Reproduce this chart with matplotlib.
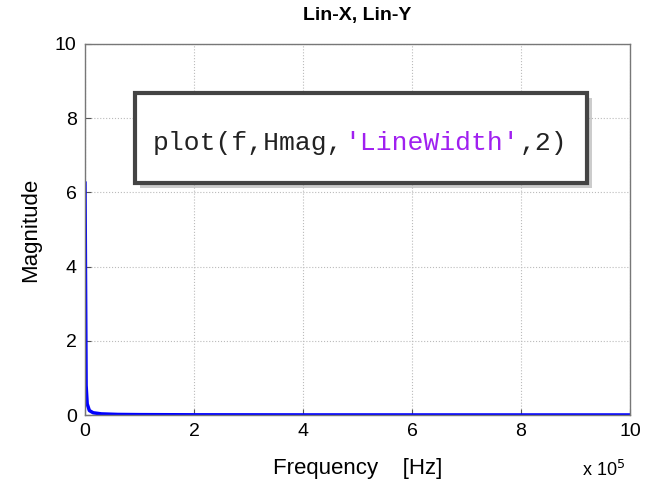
import matplotlib
matplotlib.use("Agg")
import matplotlib.pyplot as plt
from matplotlib.patches import Rectangle

# Data
f = [0, 2000, 4000, 8000, 15000, 30000, 60000, 100000, 200000, 400000, 600000, 800000, 1000000]
Hmag = [6.25, 0.8, 0.3, 0.12, 0.06, 0.03, 0.015, 0.01, 0.005, 0.0025, 0.0017, 0.0012, 0.001]

xticks = [0, 2e5, 4e5, 6e5, 8e5, 10e5]
xticklabels = ["0", "2", "4", "6", "8", "10"]
yticks = [0, 2, 4, 6, 8, 10]

plt.rcParams['font.family'] = ['Liberation Sans', 'DejaVu Sans']

W, H = 646, 487
fig = plt.figure(figsize=(W / 100, H / 100), dpi=100)
ax = fig.add_axes([85 / W, 1 - 415 / H, (630 - 85) / W, (415 - 44) / H])

ax.plot(f, Hmag, color='#0000FF', linewidth=2.5, solid_joinstyle='round')
ax.set_xlim(0, 1e6)
ax.set_ylim(0, 10)
ax.set_xticks(xticks)
ax.set_xticklabels(xticklabels)
ax.set_yticks(yticks)
ax.tick_params(direction='in', labelsize=14, length=4, color='#555555', pad=6)
ax.grid(True, linestyle=':', color='#bbbbbb', linewidth=0.8)
for s in ax.spines.values():
    s.set_color('#777777')
    s.set_linewidth(1.0)

ax.set_title("Lin-X, Lin-Y", fontsize=14, fontweight='bold', pad=17)
ax.set_ylabel("Magnitude", fontsize=16, labelpad=10)
ax.set_xlabel("Frequency    [Hz]", fontsize=16, labelpad=13)

# exponent label
fig.text(582 / W, 1 - 470 / H, r"x 10$^{5}$", fontsize=13, ha='left', va='center')

# text box with shadow
bx0, by0, bx1, by1 = 135, 93, 587, 183
shadow = Rectangle((bx0 + 5, H - by1 - 5), bx1 - bx0, by1 - by0, transform=None,
                   facecolor='#aaaaaa', edgecolor='none', alpha=0.6, zorder=10)
box = Rectangle((bx0, H - by1), bx1 - bx0, by1 - by0, transform=None,
                facecolor='white', edgecolor='#444444', linewidth=3.0, zorder=11)
fig.patches.extend([shadow, box])

segments = [("plot(f,Hmag,", '#222222'), ("'LineWidth'", '#A020F0'), (",2)", '#222222')]
x0 = 153
cw = (567 - 153) / 26
n = 0
for txt, col in segments:
    fig.text((x0 + n * cw) / W, 1 - 143 / H, txt, color=col, fontsize=19,
             family=['Liberation Mono', 'DejaVu Sans Mono'], ha='left', va='center', zorder=12)
    n += len(txt)

fig.savefig("out.png", dpi=100)
